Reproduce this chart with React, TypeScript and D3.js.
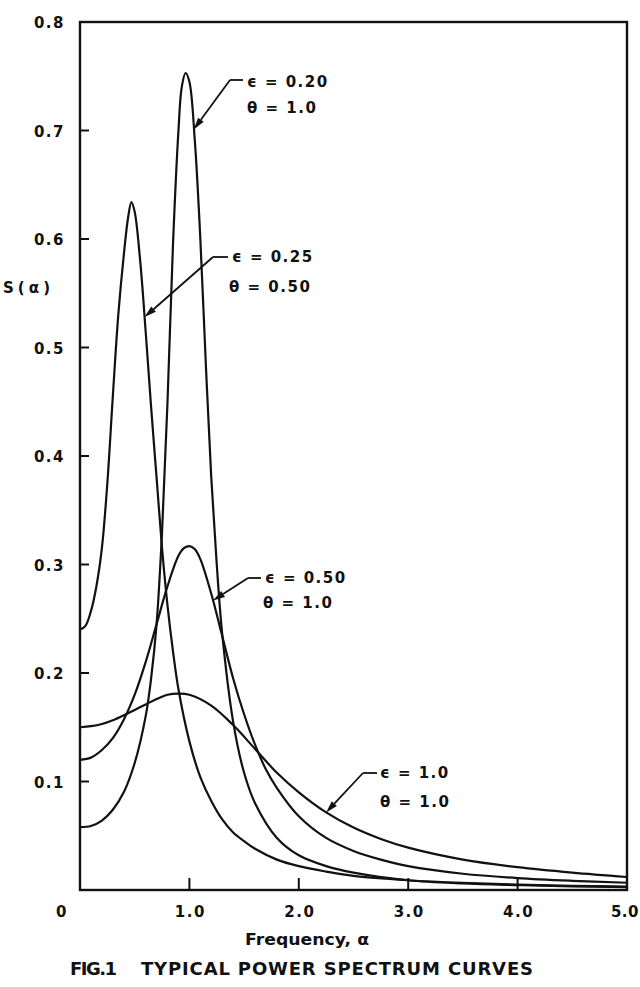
import React from 'react';
import * as d3 from 'd3';

// curve values (frequency alpha, S(alpha))
const alphaA = [0, 0.1, 0.2, 0.3, 0.4, 0.5, 0.6, 0.65, 0.7, 0.75, 0.8, 0.85, 0.9, 0.93, 0.965, 1.0, 1.05, 1.1, 1.15, 1.2, 1.25, 1.3, 1.4, 1.5, 1.6, 1.8, 2.0, 2.25, 2.5, 3.0, 3.5, 4.0, 4.5, 5.0];
const sA = [0.058, 0.059, 0.064, 0.074, 0.09, 0.117, 0.16, 0.195, 0.245, 0.33, 0.45, 0.595, 0.70, 0.74, 0.753, 0.745, 0.69, 0.60, 0.485, 0.38, 0.30, 0.236, 0.155, 0.108, 0.08, 0.048, 0.032, 0.022, 0.016, 0.009, 0.006, 0.0045, 0.0034, 0.0027];

const alphaB = [0, 0.05, 0.1, 0.15, 0.2, 0.25, 0.3, 0.35, 0.4, 0.44, 0.47, 0.5, 0.55, 0.6, 0.65, 0.7, 0.75, 0.8, 0.85, 0.9, 1.0, 1.1, 1.2, 1.3, 1.4, 1.5, 1.6, 1.8, 2.0, 2.25, 2.5, 3.0, 3.5, 4.0, 4.5, 5.0];
const sB = [0.24, 0.2435, 0.257, 0.28, 0.315, 0.375, 0.455, 0.53, 0.585, 0.62, 0.634, 0.625, 0.58, 0.515, 0.445, 0.38, 0.315, 0.262, 0.22, 0.185, 0.137, 0.104, 0.082, 0.065, 0.053, 0.045, 0.038, 0.028, 0.022, 0.017, 0.013, 0.009, 0.0065, 0.0049, 0.0038, 0.0031];

const alphaC = [0, 0.1, 0.2, 0.3, 0.4, 0.5, 0.6, 0.7, 0.8, 0.9, 0.95, 1.0, 1.05, 1.1, 1.2, 1.3, 1.4, 1.5, 1.6, 1.7, 1.8, 2.0, 2.25, 2.5, 2.75, 3.0, 3.5, 4.0, 4.5, 5.0];
const sC = [0.12, 0.122, 0.129, 0.14, 0.157, 0.18, 0.21, 0.245, 0.28, 0.308, 0.315, 0.317, 0.314, 0.305, 0.273, 0.234, 0.195, 0.162, 0.134, 0.111, 0.094, 0.068, 0.048, 0.036, 0.028, 0.022, 0.015, 0.011, 0.0085, 0.0067];

const alphaD = [0, 0.1, 0.2, 0.3, 0.4, 0.5, 0.6, 0.7, 0.8, 0.9, 1.0, 1.2, 1.4, 1.6, 1.8, 2.0, 2.25, 2.5, 2.75, 3.0, 3.5, 4.0, 4.5, 5.0];
const sD = [0.150, 0.151, 0.153, 0.1565, 0.161, 0.166, 0.171, 0.176, 0.180, 0.181, 0.180, 0.170, 0.152, 0.130, 0.108, 0.090, 0.0715, 0.0575, 0.047, 0.039, 0.028, 0.021, 0.016, 0.012];

const epsLabels = ['0.20', '0.25', '0.50', '1.0'];
const thetaLabels = ['1.0', '0.50', '1.0', '1.0'];
const arrowAlpha = [1.04, 0.59, 1.216, 2.25];

const xTicks = [0, 1, 2, 3, 4, 5];
const xTickLabels = ['0', '1.0', '2.0', '3.0', '4.0', '5.0'];
const yTicks = [0.1, 0.2, 0.3, 0.4, 0.5, 0.6, 0.7, 0.8];
const yTickLabels = ['0.1', '0.2', '0.3', '0.4', '0.5', '0.6', '0.7', '0.8'];

// where the curve labels sit (pixels)
const labelLayout = [
  { tx: 247, ty: 87, tx2: 247, ty2: 113, kx: 230, ky: 80, hx: 243 },
  { tx: 232, ty: 262, tx2: 229, ty2: 292, kx: 213, ky: 257, hx: 228 },
  { tx: 265, ty: 583, tx2: 263, ty2: 608, kx: 248, ky: 578, hx: 261 },
  { tx: 380, ty: 778, tx2: 380, ty2: 807, kx: 363, ky: 773, hx: 377 }
];

const FONT = '"DejaVu Sans", Verdana, sans-serif';

export default function App() {
  const width = 640;
  const height = 987;
  const left = 80, right = 627, top = 22, bottom = 890;

  const x = d3.scaleLinear().domain([0, 5]).range([left, right]);
  const y = d3.scaleLinear().domain([0, 0.8]).range([bottom, top]);

  const series = [
    { a: alphaA, s: sA },
    { a: alphaB, s: sB },
    { a: alphaC, s: sC },
    { a: alphaD, s: sD }
  ];

  const line = d3.line<[number, number]>()
    .x(d => x(d[0]))
    .y(d => y(d[1]))
    .curve(d3.curveCatmullRom.alpha(0.5));

  const textStyle = { fontFamily: FONT, fontWeight: 700, fontSize: 15, letterSpacing: 1.5 } as const;

  return (
    <div style={{ position: 'absolute', left: 0, top: 0 }}>
      <svg width={width} height={height} style={{ display: 'block', background: '#fff' }}>
        {/* curves */}
        {series.map((c, i) => (
          <path key={i}
            d={line(c.a.map((a, j) => [a, c.s[j]] as [number, number])) || ''}
            fill="none" stroke="#111" strokeWidth={2.2} />
        ))}

        {/* frame */}
        <rect x={left} y={top} width={right - left} height={bottom - top}
          fill="none" stroke="#111" strokeWidth={2.4} />

        {/* y ticks */}
        {yTicks.map((t, i) => (
          <g key={t}>
            {i < yTicks.length - 1 && (
              <line x1={left} x2={left + 9} y1={y(t)} y2={y(t)} stroke="#111" strokeWidth={2} />
            )}
            <text x={65} y={y(t) + 6} textAnchor="end" style={textStyle} fill="#111">{yTickLabels[i]}</text>
          </g>
        ))}

        {/* x ticks */}
        {xTicks.map((t, i) => {
          const last = i === xTicks.length - 1;
          return (
            <g key={t}>
              {i > 0 && !last && (
                <line x1={x(t)} x2={x(t)} y1={bottom} y2={bottom - 12} stroke="#111" strokeWidth={2} />
              )}
              <text x={i === 0 ? x(t) - 18 : last ? 639 : x(t) + 1} y={917}
                textAnchor={last ? 'end' : 'middle'} style={{ ...textStyle, letterSpacing: last ? 0.5 : 1.5 }} fill="#111">
                {xTickLabels[i]}
              </text>
            </g>
          );
        })}

        {/* axis titles */}
        <text x={3} y={293} textLength={47} lengthAdjust="spacing"
          style={{ fontFamily: FONT, fontWeight: 700, fontSize: 15 }} fill="#111">S(α)</text>
        <text x={245} y={945} textLength={124} lengthAdjust="spacingAndGlyphs"
          style={{ fontFamily: FONT, fontWeight: 700, fontSize: 15 }} fill="#111">Frequency, α</text>
        <text x={70} y={975} textLength={47} lengthAdjust="spacing"
          style={{ fontFamily: FONT, fontWeight: 700, fontSize: 18 }} fill="#111">FIG.1</text>
        <text x={141} y={975} textLength={392} lengthAdjust="spacing"
          style={{ fontFamily: FONT, fontWeight: 700, fontSize: 18 }} fill="#111">TYPICAL POWER SPECTRUM CURVES</text>

        {/* curve labels with arrows */}
        {labelLayout.map((l, i) => {
          const c = series[i];
          const interp = d3.scaleLinear().domain(c.a).range(c.s);
          const px = x(arrowAlpha[i]);
          const py = y(interp(arrowAlpha[i]));
          const dx = px - l.kx, dy = py - l.ky;
          const len = Math.sqrt(dx * dx + dy * dy);
          const ux = dx / len, uy = dy / len;
          const bx = px - ux * 12, by = py - uy * 12;
          const head = `${px},${py} ${bx - uy * 3.5},${by + ux * 3.5} ${bx + uy * 3.5},${by - ux * 3.5}`;
          return (
            <g key={i}>
              <line x1={l.kx} y1={l.ky} x2={l.hx} y2={l.ky} stroke="#111" strokeWidth={1.8} />
              <line x1={l.kx} y1={l.ky} x2={bx} y2={by} stroke="#111" strokeWidth={1.8} />
              <polygon points={head} fill="#111" />
              <text x={l.tx} y={l.ty} style={textStyle} fill="#111">{`ϵ = ${epsLabels[i]}`}</text>
              <text x={l.tx2} y={l.ty2} style={textStyle} fill="#111">{`θ = ${thetaLabels[i]}`}</text>
            </g>
          );
        })}
      </svg>
    </div>
  );
}
